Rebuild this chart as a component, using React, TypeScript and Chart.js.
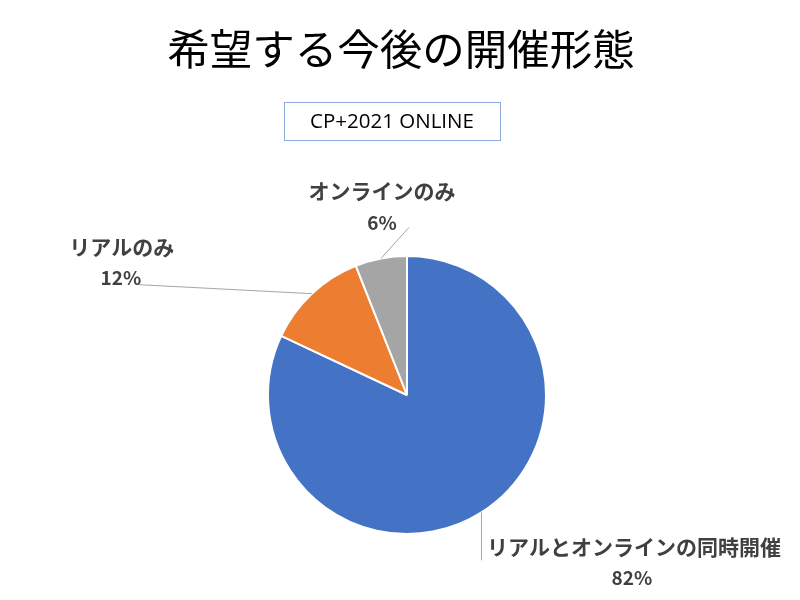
import React, { useEffect, useRef } from "react";
import { Chart, registerables } from "chart.js";

Chart.register(...registerables);

const titleText = "希望する今後の開催形態";
const subtitleText = "CP+2021 ONLINE";
const categories = ["リアルとオンラインの同時開催", "リアルのみ", "オンラインのみ"];
const values = [82, 12, 6];
const colors = ["#4472C4", "#ED7D31", "#A5A5A5"];

// label layout, relative to the arc's outer mid-point
const labelLayout = [
  { line: [0, 48], t1: [152.5, 35], t2: [150.5, 65] },
  { line: [-173, -9], t1: [-190, -47], t2: [-191, -16] },
  { line: [28, -31], t1: [1, -67.5], t2: [1, -35.5] },
];

const JP = '"Noto Sans CJK JP", "Noto Sans", sans-serif';

const decorPlugin = {
  id: "decor",
  beforeDraw(chart: any) {
    const ctx = chart.ctx;
    ctx.save();
    ctx.fillStyle = "#ffffff";
    ctx.fillRect(0, 0, chart.width, chart.height);
    ctx.restore();
  },
  afterDraw(chart: any) {
    const ctx = chart.ctx;
    ctx.save();
    // title
    ctx.fillStyle = "#000000";
    ctx.font = `400 42.5px ${JP}`;
    ctx.textAlign = "center";
    ctx.textBaseline = "middle";
    ctx.fillText(titleText, 401, 49);
    // subtitle box
    ctx.strokeStyle = "#8FAADC";
    ctx.lineWidth = 1;
    ctx.strokeRect(284.5, 102.5, 216, 38);
    ctx.fillStyle = "#000000";
    ctx.font = `400 20.5px "Open Sans", "Liberation Sans", sans-serif`;
    ctx.fillText(subtitleText, 392, 122);

    // data labels
    const meta = chart.getDatasetMeta(0);
    const total = values.reduce((a, b) => a + b, 0);
    meta.data.forEach((arc: any, i: number) => {
      const { x, y, startAngle, endAngle, outerRadius } = arc.getProps(
        ["x", "y", "startAngle", "endAngle", "outerRadius"],
        true
      );
      const mid = (startAngle + endAngle) / 2;
      const ax = x + Math.cos(mid) * outerRadius;
      const ay = y + Math.sin(mid) * outerRadius;
      const L = labelLayout[i];
      ctx.strokeStyle = "#A6A6A6";
      ctx.lineWidth = 1;
      ctx.beginPath();
      ctx.moveTo(ax, ay);
      ctx.lineTo(ax + L.line[0], ay + L.line[1]);
      ctx.stroke();
      ctx.fillStyle = "#404040";
      ctx.textAlign = "center";
      ctx.textBaseline = "middle";
      ctx.font = `700 21px ${JP}`;
      ctx.fillText(categories[i], ax + L.t1[0], ay + L.t1[1]);
      const pct = Math.round((values[i] / total) * 100) + "%";
      ctx.font = `700 19px ${JP}`;
      ctx.fillText(pct, ax + L.t2[0], ay + L.t2[1]);
    });
    ctx.restore();
  },
};

export default function App() {
  const ref = useRef<HTMLCanvasElement | null>(null);
  useEffect(() => {
    if (!ref.current) return;
    const chart = new Chart(ref.current, {
      type: "pie",
      data: {
        labels: categories,
        datasets: [
          {
            data: values,
            backgroundColor: colors,
            borderColor: "#ffffff",
            borderWidth: 2,
          },
        ],
      },
      options: {
        animation: false,
        responsive: false,
        radius: 139,
        layout: { padding: { top: 256, left: 268, right: 254, bottom: 66 } },
        plugins: {
          legend: { display: false },
          tooltip: { enabled: false },
          title: { display: false },
        },
      } as any,
      plugins: [decorPlugin],
    });
    return () => chart.destroy();
  }, []);
  return (
    <div style={{ position: "absolute", left: 0, top: 0, width: 800, height: 600, background: "#fff" }}>
      <canvas ref={ref} width={800} height={600} style={{ width: 800, height: 600 }} />
    </div>
  );
}
